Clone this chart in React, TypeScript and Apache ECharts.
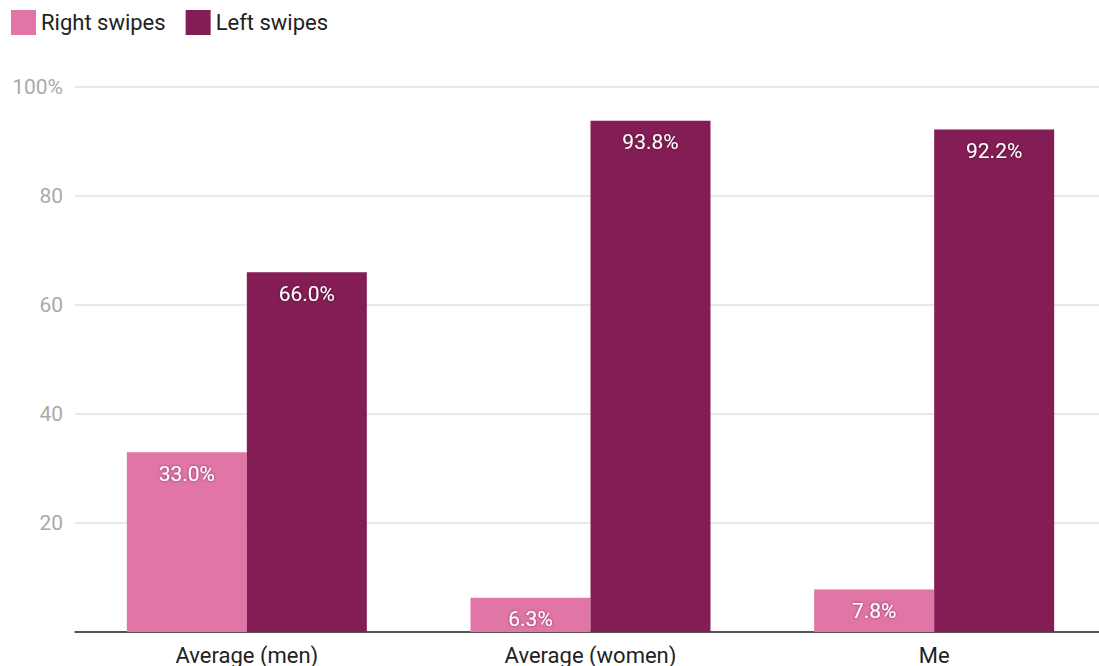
import React, { useEffect, useRef } from "react";
import * as echarts from "echarts";

const categories = ["Average (men)", "Average (women)", "Me"];
const rightSwipes = [33.0, 6.3, 7.8];
const leftSwipes = [66.0, 93.8, 92.2];
const seriesNames = ["Right swipes", "Left swipes"];

export default function App() {
  const ref = useRef<HTMLDivElement>(null);
  useEffect(() => {
    if (!ref.current) return;
    const chart = echarts.init(ref.current, undefined, { renderer: "svg" });
    const label = {
      show: true,
      position: "insideTop",
      distance: 11,
      color: "#ffffff",
      fontSize: 21,
      fontFamily: "Roboto",
      textShadowColor: "rgba(0,0,0,0.45)",
      textShadowBlur: 3,
      formatter: (p: any) => p.value.toFixed(1) + "%",
    };
    chart.setOption({
      animation: false,
      textStyle: { fontFamily: "Roboto" },
      legend: {
        left: 11,
        top: 10,
        padding: 0,
        itemWidth: 25,
        itemHeight: 25,
        itemGap: 20,
        icon: "rect",
        textStyle: { fontSize: 22, color: "#222", fontFamily: "Roboto" },
        data: seriesNames,
      },
      grid: { left: 75, right: 0, top: 87, bottom: 32, containLabel: false },
      xAxis: {
        type: "category",
        data: categories,
        axisLine: { lineStyle: { color: "#222", width: 1.5 } },
        axisTick: { show: false },
        axisLabel: { fontSize: 22, color: "#222", margin: 12, fontFamily: "Roboto" },
      },
      yAxis: {
        type: "value",
        min: 0,
        max: 100,
        interval: 20,
        axisLine: { show: false },
        axisTick: { show: false },
        splitLine: { lineStyle: { color: "#e2e2e2", width: 1.5 } },
        axisLabel: {
          fontSize: 21,
          color: "#aaaaaa",
          margin: 12,
          fontFamily: "Roboto",
          formatter: (v: number) => (v === 0 ? "" : v === 100 ? "100%" : String(v)),
        },
      },
      series: [
        {
          name: seriesNames[0],
          type: "bar",
          data: rightSwipes,
          barWidth: 120,
          barGap: "0%",
          itemStyle: { color: "#e075a6" },
          label,
        },
        {
          name: seriesNames[1],
          type: "bar",
          data: leftSwipes,
          barWidth: 120,
          barGap: "0%",
          itemStyle: { color: "#841d55" },
          label,
        },
      ],
    });
    return () => chart.dispose();
  }, []);
  return (
    <div
      style={{ position: "fixed", left: 0, top: 0, width: 1099, height: 666, overflow: "hidden", background: "#fff" }}
    >
      <div ref={ref} style={{ position: "absolute", left: 0, top: 0, width: 1106, height: 666 }} />
    </div>
  );
}
